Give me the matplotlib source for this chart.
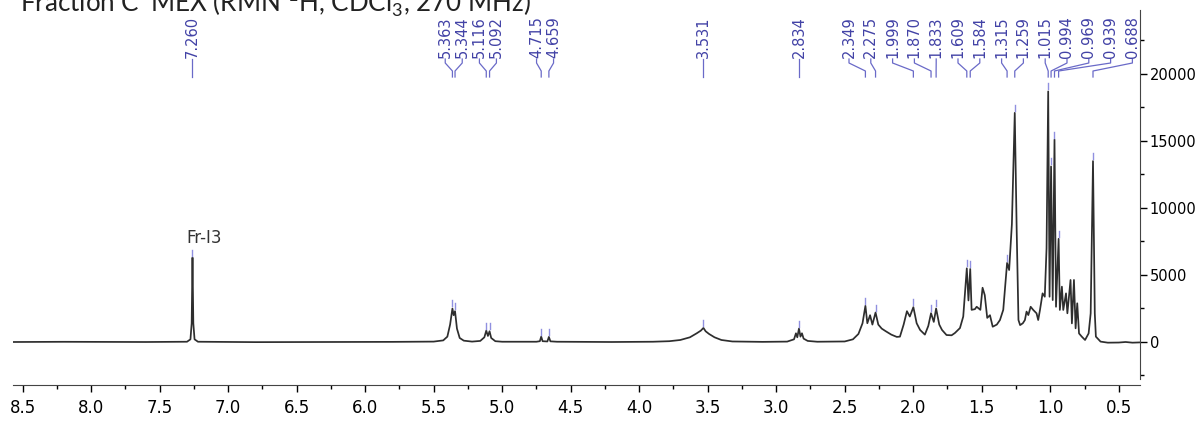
import numpy as np
import matplotlib
matplotlib.use("Agg")
import matplotlib.pyplot as plt
from matplotlib.ticker import MultipleLocator
from matplotlib.transforms import blended_transform_factory

plt.rcParams["mathtext.fontset"] = "custom"
plt.rcParams["mathtext.rm"] = "Lato"

# spectrum trace (ppm, intensity)
trace_ppm = [8.57, 8.2, 8.0, 7.6, 7.30, 7.275, 7.266, 7.260, 7.254, 7.245, 7.22,
             6.8, 6.2, 5.8, 5.5, 5.43, 5.40, 5.38, 5.363, 5.354, 5.344, 5.33, 5.31, 5.28,
             5.22, 5.16, 5.13, 5.116, 5.104, 5.092, 5.08, 5.05, 5.0, 4.75, 4.725, 4.715,
             4.705, 4.67, 4.659, 4.648, 4.6, 4.2, 3.9, 3.78, 3.70, 3.63, 3.58, 3.55, 3.531,
             3.515, 3.49, 3.45, 3.40, 3.32, 3.1, 2.92, 2.87, 2.856, 2.846, 2.834, 2.823,
             2.812, 2.80, 2.77, 2.70, 2.50, 2.44, 2.40, 2.37, 2.349, 2.335, 2.315, 2.298,
             2.275, 2.255, 2.23, 2.20, 2.16, 2.12, 2.097, 2.07, 2.046, 2.025, 1.999, 1.975,
             1.95, 1.915, 1.89, 1.870, 1.85, 1.833, 1.81, 1.79, 1.757, 1.72, 1.696, 1.659,
             1.635, 1.609, 1.597, 1.584, 1.574, 1.55, 1.537, 1.51, 1.494, 1.478, 1.46, 1.44,
             1.42, 1.39, 1.367, 1.343, 1.323, 1.315, 1.30, 1.28, 1.259, 1.245, 1.232, 1.22,
             1.20, 1.185, 1.173, 1.16, 1.143, 1.124, 1.10, 1.088, 1.075, 1.056, 1.04, 1.027,
             1.015, 1.005, 0.994, 0.982, 0.969, 0.958, 0.939, 0.930, 0.915, 0.905, 0.885,
             0.875, 0.852, 0.842, 0.827, 0.815, 0.803, 0.79, 0.77, 0.746, 0.72, 0.705, 0.688,
             0.675, 0.667, 0.633, 0.58, 0.50, 0.45, 0.40, 0.345]
trace_int = [0, 15, 10, 0, 20, 200, 1400, 6300, 1400, 200, 20,
             -10, 0, 10, 30, 120, 400, 1300, 2500, 2000, 2300, 1000, 300, 100,
             30, 80, 350, 850, 450, 800, 300, 60, 20, 20, 60, 400,
             60, 40, 380, 50, 20, 0, 20, 60, 150, 350, 650, 850, 1050,
             800, 600, 350, 150, 40, 10, 30, 200, 650, 350, 1000, 400,
             650, 250, 80, 20, 40, 200, 600, 1400, 2700, 1400, 2000, 1300,
             2200, 1300, 1000, 800, 550, 380, 400, 1300, 2300, 1900, 2600, 1400,
             900, 550, 1200, 2150, 1500, 2500, 1300, 900, 520, 500, 670, 1040,
             1900, 5500, 3100, 5450, 2400, 2450, 2630, 2400, 4050, 3500, 1800, 2000,
             1140, 1300, 1640, 2400, 4880, 5900, 5370, 8800, 17100, 8350, 1640, 1260,
             1400, 1640, 2270, 2010, 2630, 2390, 2140, 1640, 2390, 3630, 3380, 7000,
             18700, 3380, 13100, 3130, 15100, 2630, 7700, 2390, 4130, 2390, 3630,
             2140, 4630, 1390, 4630, 1020, 2890, 640, 400, 150, 640, 2140, 13500,
             2140, 400, 30, -50, -40, 0, -50, -30]

# picked peaks
peak_ppm = [7.260, 5.363, 5.344, 5.116, 5.092, 4.715, 4.659, 3.531, 2.834,
            2.349, 2.275, 1.999, 1.870, 1.833, 1.609, 1.584, 1.315, 1.259,
            1.015, 0.994, 0.969, 0.939, 0.688]

title = "Fraction C' MEX (RMN $^{1}$H, CDCl$_{3}$, 270 MHz)"
ref_label = "Fr-I3"

W, H = 1201, 421
L, R, T, B = 13, 1140, 10, 385
xlim = (8.57, 0.345)
ylim = (-3209, 24776)
blue = "#4242a6"

fig = plt.figure(figsize=(W / 100, H / 100), dpi=100)
ax = fig.add_axes([L / W, 1 - B / H, (R - L) / W, (B - T) / H])
ax.plot(trace_ppm, trace_int, color="#2e2e2e", lw=1.25)
ax.set_xlim(*xlim)
ax.set_ylim(*ylim)

ax.spines["top"].set_visible(False)
ax.spines["left"].set_visible(False)
ax.spines["right"].set_bounds(-2750, ylim[1])
ax.yaxis.tick_right()
ax.xaxis.set_major_locator(MultipleLocator(0.5))
ax.xaxis.set_minor_locator(MultipleLocator(0.25))
ax.yaxis.set_major_locator(MultipleLocator(5000))
ax.yaxis.set_minor_locator(MultipleLocator(2500))
ax.xaxis.set_major_formatter(lambda v, p: f"{v:.1f}")
ax.tick_params(axis="x", which="major", length=5, width=1, labelsize=12, pad=5)
ax.tick_params(axis="x", which="minor", length=3, width=1)
ax.tick_params(axis="y", which="major", length=5, width=1, labelsize=10.5, pad=2)
ax.tick_params(axis="y", which="minor", length=3, width=1)
for s in ax.spines.values():
    s.set_color("#444444")

# label layout: spread labels so they don't overlap
px_per_ppm = (R - L) / (xlim[0] - xlim[1])
to_px = lambda p: L + (xlim[0] - p) * px_per_ppm
to_ppm = lambda x: xlim[0] - (x - L) / px_per_ppm


def spread(xs, gap):
    clusters = []
    for x in xs:
        clusters.append([x])
        while len(clusters) > 1:
            a, b = clusters[-2], clusters[-1]
            sa = np.mean([v - i * gap for i, v in enumerate(a)])
            sb = np.mean([v - i * gap for i, v in enumerate(b)])
            if sa + gap * len(a) > sb:
                clusters[-2:] = [a + b]
            else:
                break
    out = []
    for c in clusters:
        s0 = np.mean([v - i * gap for i, v in enumerate(c)])
        out += [s0 + i * gap for i in range(len(c))]
    return out


pk = np.array(peak_ppm)
pk_px = [to_px(p) for p in pk]
lab_px = spread([x for p, x in zip(pk, pk_px) if p > 2.5], 17) + \
    spread([x + 6 for p, x in zip(pk, pk_px) if p <= 2.5], 21.8)

yf = lambda px: 1 - px / H
blend = blended_transform_factory(ax.transData, fig.transFigure)
dy = (ylim[1] - ylim[0]) / (B - T)
heights = np.interp(pk, trace_ppm[::-1], trace_int[::-1])

for p, xp, xl, h in zip(pk, pk_px, lab_px, heights):
    ax.text(to_ppm(xl), yf(58), f"{p:.3f}", rotation=90, ha="center", va="bottom",
            transform=blend, fontsize=10.5, color=blue)
    ax.plot([to_ppm(xl), to_ppm(xl), p, p], [yf(59), yf(63), yf(71), yf(77)],
            transform=blend, color="#6a6ac8", lw=0.9, clip_on=False)
    ax.plot([p, p], [h + 2 * dy, h + 8 * dy], color="#9090e0", lw=1.0)

ax.annotate(ref_label, xy=(7.26, heights[0]), xytext=(12, 20),
            textcoords="offset pixels", ha="center", va="center",
            fontsize=12, color="#333333")

fig.text(20 / W, yf(12), title, fontsize=18.7, family="Lato", va="baseline",
         ha="left", color="#222222")

fig.savefig("out.png", dpi=100)
